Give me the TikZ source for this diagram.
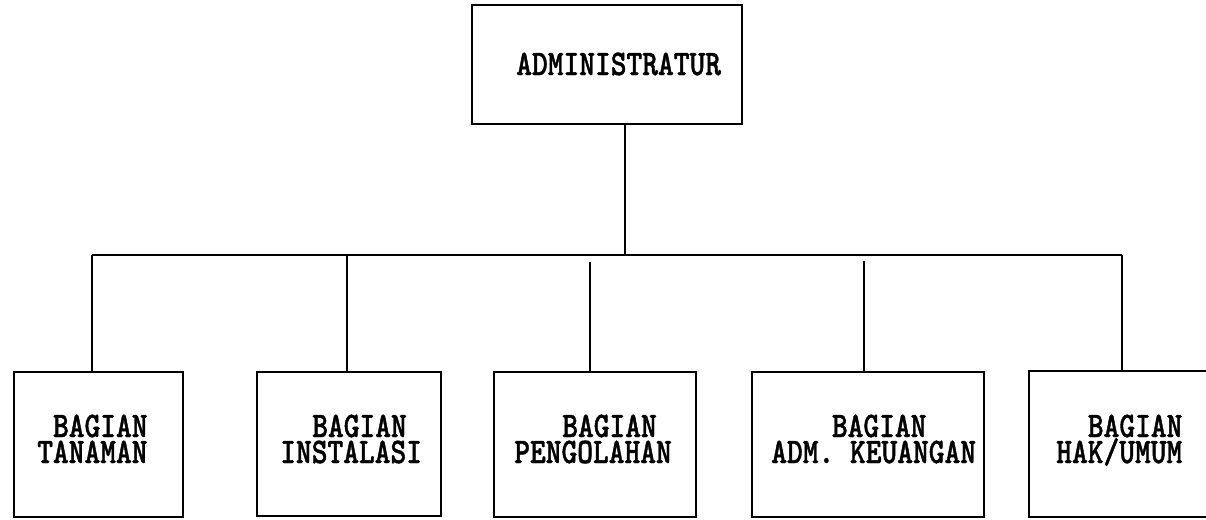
\documentclass[tikz,border=0pt]{standalone}
\usepackage{fontspec}
\usepackage{graphicx}
\newfontfamily\twfont[FakeBold=1.3]{lmmonolt10-bold.otf}
\newcommand\twtext[1]{\scalebox{1}[1.2]{#1}}
\newcommand\twolines[3]{\vtop{\baselineskip=19.5pt\lineskiplimit=-100pt\lineskip=0pt
  \hbox{\hspace*{#1}\twtext{#2}}\hbox{\twtext{#3}}}}
\begin{document}
\begin{tikzpicture}[x=0.75pt,y=-0.75pt,
  box/.style={draw=black,line width=1.5pt,inner sep=0pt},
  conn/.style={draw=black,line width=1.4pt},
  lbl/.style={anchor=base west,inner sep=0pt,font=\twfont\fontsize{22.5}{19.5}\selectfont}]
\useasboundingbox (0,0) rectangle (1206,519);
% boxes
\node[box,minimum width=270*0.75pt,minimum height=119*0.75pt] (adm) at (607,64.5) {};
\node[box,minimum width=169*0.75pt,minimum height=145*0.75pt] (b1) at (98.5,444.5) {};
\node[box,minimum width=184*0.75pt,minimum height=144*0.75pt] (b2) at (349,444) {};
\node[box,minimum width=202*0.75pt,minimum height=145*0.75pt] (b3) at (595,444.5) {};
\node[box,minimum width=232*0.75pt,minimum height=145*0.75pt] (b4) at (868,444.5) {};
\node[box,minimum width=200*0.75pt,minimum height=146*0.75pt] (b5) at (1129,444) {};
% texts
\node[lbl] (tadm) at (516,75) {\twtext{ADMINISTRATUR}};
\node[lbl] (t1) at (37,437) {\twolines{11.85pt}{BAGIAN}{TANAMAN}};
\node[lbl] (t2) at (280,437) {\twolines{24pt}{BAGIAN}{INSTALASI}};
\node[lbl] (t3) at (514,437) {\twolines{36pt}{BAGIAN}{PENGOLAHAN}};
\node[lbl] (t4) at (771,437) {\twolines{45.5pt}{BAGIAN}{ADM. KEUANGAN}};
\node[lbl] (t5) at (1056,437) {\twolines{23.7pt}{BAGIAN}{HAK/UMUM}};
% connectors
\coordinate (hl) at (92,255);
\coordinate (hr) at (1122,255);
\coordinate (hm) at (625,255);
\coordinate (c2) at (347,255);
\coordinate (c3) at (590,262);
\coordinate (c4) at (864,261);
\draw[conn] (hl) -- (hr);
\draw[conn] (adm.south -| hm) -- (hm);
\draw[conn] (hl) -- (hl |- b1.north);
\draw[conn] (c2) -- (c2 |- b2.north);
\draw[conn] (c3) -- (c3 |- b3.north);
\draw[conn] (c4) -- (c4 |- b4.north);
\draw[conn] (hr) -- (hr |- b5.north);
\end{tikzpicture}
\end{document}
